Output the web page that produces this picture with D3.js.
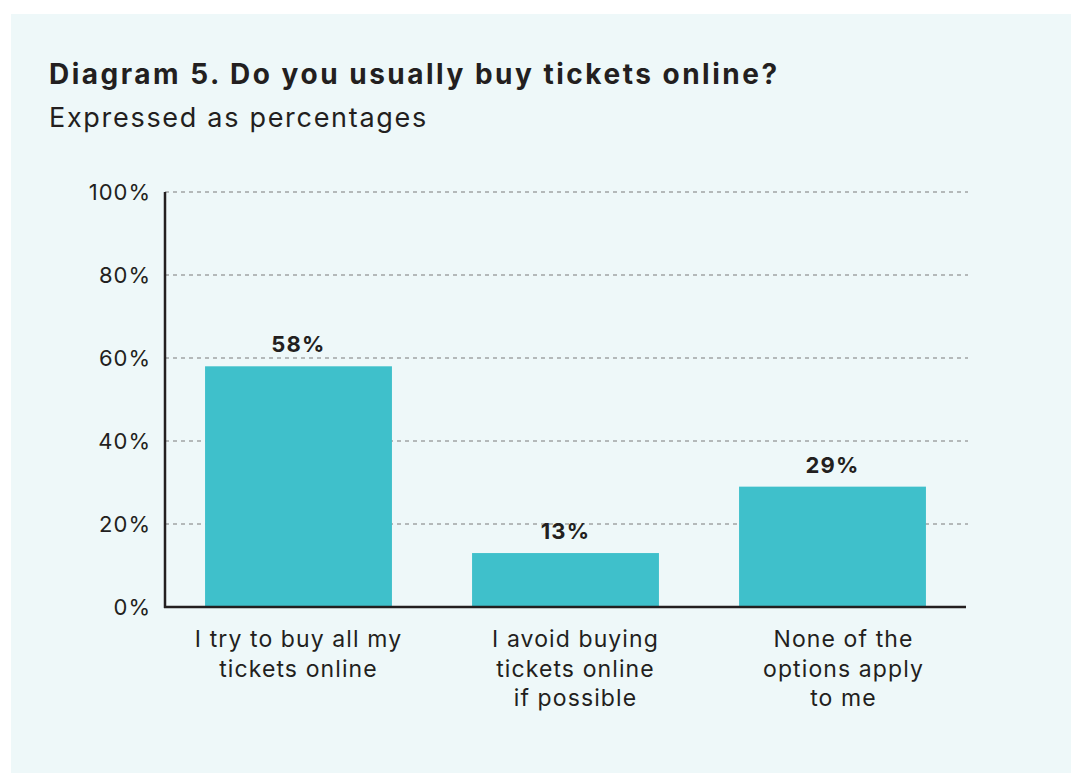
<!DOCTYPE html>
<html>
<head>
<meta charset="utf-8">
<script src="https://cdn.jsdelivr.net/npm/d3@7"></script>
<style>
  html, body { margin: 0; padding: 0; background: #ffffff; }
  svg { display: block; }
  text { font-family: Inter, "Open Sans", sans-serif; fill: #231f20; }
</style>
</head>
<body>
<svg id="chart" width="1071" height="773"></svg>
<script>
// Survey answers and shares (percent)
const categories = [
  ["I try to buy all my", "tickets online"],
  ["I avoid buying", "tickets online", "if possible"],
  ["None of the", "options apply", "to me"]
];
const values = [58, 13, 29];
const yTicks = [0, 20, 40, 60, 80, 100];
const titleText = "Diagram 5. Do you usually buy tickets online?";
const subtitleText = "Expressed as percentages";

const svg = d3.select("#chart");
const W = 1071, H = 773;

// panel background
svg.append("rect")
  .attr("x", 11).attr("y", 14)
  .attr("width", W - 11).attr("height", H - 14)
  .attr("fill", "#eef8f9");

// title block
svg.append("text")
  .attr("x", 49).attr("y", 84)
  .attr("font-size", 28).attr("font-weight", 700)
  .attr("letter-spacing", 2.5)
  .text(titleText);
svg.append("text")
  .attr("x", 49).attr("y", 127)
  .attr("font-size", 27).attr("font-weight", 400)
  .attr("letter-spacing", 1.7)
  .text(subtitleText);

const plot = { left: 165, right: 966, top: 192, bottom: 607 };

const x = d3.scaleBand()
  .domain(d3.range(values.length))
  .range([plot.left, plot.right])
  .paddingInner(0.3)
  .paddingOuter(0.15);

const y = d3.scaleLinear()
  .domain([0, 100])
  .range([plot.bottom, plot.top]);

// dashed gridlines
svg.append("g")
  .selectAll("line")
  .data(yTicks.filter(d => d > 0))
  .join("line")
  .attr("x1", plot.left).attr("x2", plot.right + 2)
  .attr("y1", d => y(d)).attr("y2", d => y(d))
  .attr("stroke", "#7a7a7a")
  .attr("stroke-width", 1)
  .attr("stroke-dasharray", "4,4");

// bars
svg.append("g")
  .selectAll("rect")
  .data(values)
  .join("rect")
  .attr("x", (d, i) => x(i))
  .attr("y", d => y(d))
  .attr("width", x.bandwidth())
  .attr("height", d => y(0) - y(d))
  .attr("fill", "#3fc0cb");

// value labels
svg.append("g")
  .selectAll("text")
  .data(values)
  .join("text")
  .attr("x", (d, i) => x(i) + x.bandwidth() / 2)
  .attr("y", d => y(d) - 14)
  .attr("text-anchor", "middle")
  .attr("font-size", 22).attr("font-weight", 700)
  .attr("letter-spacing", 1.2)
  .text(d => d + "%");

// y axis
const yAxis = d3.axisLeft(y)
  .tickValues(yTicks)
  .tickSize(0)
  .tickPadding(14)
  .tickFormat(d => d + "%");
const gy = svg.append("g")
  .attr("transform", `translate(${plot.left},0)`)
  .call(yAxis);
gy.select(".domain").remove();
gy.selectAll("text")
  .attr("font-size", 22)
  .attr("font-family", "Inter, 'Open Sans', sans-serif")
  .attr("fill", "#231f20")
  .attr("letter-spacing", 1)
  .attr("dy", "0.36em");

// axis lines
svg.append("line")
  .attr("x1", plot.left).attr("x2", plot.left)
  .attr("y1", plot.top).attr("y2", plot.bottom + 1)
  .attr("stroke", "#231f20").attr("stroke-width", 2.5);
svg.append("line")
  .attr("x1", plot.left - 1).attr("x2", plot.right)
  .attr("y1", plot.bottom).attr("y2", plot.bottom)
  .attr("stroke", "#231f20").attr("stroke-width", 2.5);

// category labels (the last two sit slightly right of their bar centres)
const labelNudge = [0, 10, 11];
const cat = svg.append("g")
  .selectAll("text")
  .data(categories)
  .join("text")
  .attr("x", (d, i) => x(i) + x.bandwidth() / 2 + labelNudge[i])
  .attr("y", 647)
  .attr("text-anchor", "middle")
  .attr("font-size", 23)
  .attr("letter-spacing", 1.1);
cat.selectAll("tspan")
  .data(d => d)
  .join("tspan")
  .attr("x", function () { return d3.select(this.parentNode).attr("x"); })
  .attr("dy", (d, i) => i === 0 ? 0 : 29.5)
  .text(d => d);
</script>
</body>
</html>
